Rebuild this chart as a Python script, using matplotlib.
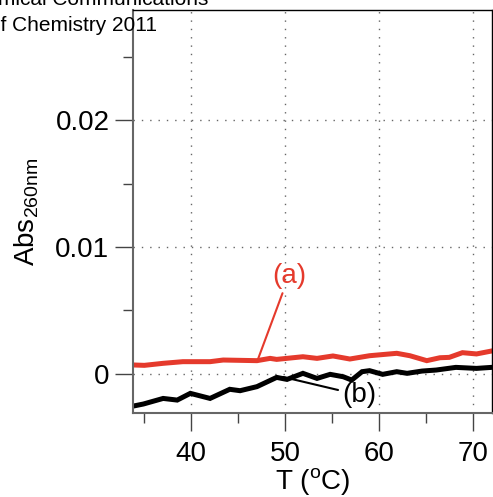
import matplotlib
matplotlib.use("Agg")
import matplotlib.pyplot as plt
from matplotlib.ticker import MultipleLocator

plt.rcParams['font.family'] = ['Liberation Sans', 'DejaVu Sans']
plt.rcParams['mathtext.fontset'] = 'custom'
plt.rcParams['mathtext.rm'] = 'Liberation Sans'

# curve (a), red
temp_a = [33.8, 35.0, 37.0, 39.1, 42.0, 43.4, 47.0, 48.4, 49.1, 51.9, 53.4,
          55.1, 56.9, 59.0, 61.9, 63.3, 65.1, 66.5, 67.5, 68.9, 70.4, 72.0]
abs_a = [0.00069, 0.00066, 0.00082, 0.00095, 0.00095, 0.00108, 0.00103,
         0.00121, 0.00113, 0.00134, 0.00121, 0.00140, 0.00116, 0.00142,
         0.00161, 0.00142, 0.00103, 0.00126, 0.00129, 0.00166, 0.00156, 0.00179]

# curve (b), black
temp_b = [33.5, 34.9, 37.0, 38.5, 39.9, 42.0, 44.1, 45.2, 47.0, 49.1, 50.2,
          51.9, 53.4, 54.8, 56.2, 57.1, 58.2, 59.0, 60.4, 61.9, 63.0, 64.6,
          66.1, 68.2, 70.4, 72.0]
abs_b = [-0.00260, -0.00239, -0.00195, -0.00208, -0.00155, -0.00195, -0.00123,
         -0.00134, -0.00102, -0.00029, -0.00045, 0.00003, -0.00037, -0.00005,
         -0.00024, -0.00050, 0.00016, 0.00024, -0.00005, 0.00016, 0.00003,
         0.00021, 0.00029, 0.00050, 0.00042, 0.00050]

red = '#e53a2c'

fig = plt.figure(figsize=(4.93, 4.97), dpi=100)
ax = fig.add_axes([0.270, 0.169, 0.727, 0.811])

ax.plot(temp_a, abs_a, color=red, lw=3.6, solid_joinstyle='miter')
ax.plot(temp_b, abs_b, color='black', lw=3.6, solid_joinstyle='miter')

ax.set_xlim(33.8, 72.0)
ax.set_ylim(-0.0031, 0.0287)

ax.xaxis.set_major_locator(MultipleLocator(10))
ax.xaxis.set_minor_locator(MultipleLocator(5))
ax.yaxis.set_major_locator(MultipleLocator(0.01))
ax.yaxis.set_minor_locator(MultipleLocator(0.005))
ax.set_yticks([0, 0.01, 0.02])
ax.set_yticklabels(['0', '0.01', '0.02'])

ax.grid(True, which='major', color='#666666', linestyle=(0, (1, 5)), lw=1.0)

ax.tick_params(which='major', direction='out', length=13, width=1, labelsize=20,
               color='#444444', pad=4)
ax.tick_params(axis='x', which='major', pad=7)
ax.tick_params(which='minor', direction='out', length=7, width=1, color='#444444')
ax.tick_params(top=False, right=False)

for side in ['left', 'bottom']:
    ax.spines[side].set_color('#666666')
    ax.spines[side].set_linewidth(1.5)
for side in ['top', 'right']:
    ax.spines[side].set_color('black')
    ax.spines[side].set_linewidth(1.0)

ax.set_xlabel(r'T ($^\mathregular{o}$C)', fontsize=20, labelpad=0)
ax.set_ylabel(r'Abs$_\mathregular{260nm}$', fontsize=20, labelpad=10)

# labels with leader lines
ax.annotate('(a)', xy=(47.0, 0.00093), xytext=(50.4, 0.0077), color=red,
            fontsize=20, ha='center', va='center',
            arrowprops=dict(arrowstyle='-', color=red, lw=1.5, shrinkA=1, shrinkB=0))
ax.annotate('(b)', xy=(49.8, -0.00026), xytext=(57.9, -0.00168), color='black',
            fontsize=20, ha='center', va='center',
            arrowprops=dict(arrowstyle='-', color='black', lw=1.5, shrinkA=1, shrinkB=0))

# clipped journal watermark
fig.text(208 / 493, 1 - 5 / 497, 'Electronic Supplementary Material (ESI) for Chemical Communications',
         ha='right', va='baseline', fontsize=15)
fig.text(157 / 493, 1 - 31 / 497, 'This journal is \u00a9 The Royal Society of Chemistry 2011',
         ha='right', va='baseline', fontsize=15)

fig.savefig('out.png', dpi=100)
